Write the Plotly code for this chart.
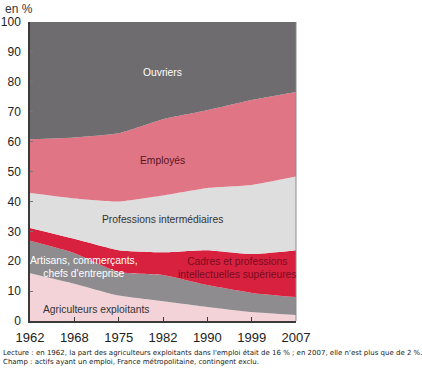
import plotly.graph_objects as go

years = ["1962", "1968", "1975", "1982", "1990", "1999", "2007"]
agriculteurs = [16.0, 12.5, 8.5, 6.6, 4.7, 3.0, 2.0]
artisans = [10.8, 10.2, 7.9, 8.8, 7.3, 6.4, 6.0]
cadres = [4.3, 4.8, 7.3, 7.6, 11.7, 13.0, 15.7]
prof_inter = [11.7, 13.5, 16.3, 19.0, 20.8, 23.1, 24.6]
employes = [18.0, 20.4, 22.8, 25.5, 26.0, 28.4, 28.3]
ouvriers = [39.2, 38.6, 37.2, 32.5, 29.5, 26.1, 23.4]

series = [
    ("Agriculteurs exploitants", agriculteurs, "#f4d3d8"),
    ("Artisans, commerçants, chefs d'entreprise", artisans, "#8e8c8e"),
    ("Cadres et professions intellectuelles supérieures", cadres, "#d8213e"),
    ("Professions intermédiaires", prof_inter, "#dedede"),
    ("Employés", employes, "#e07586"),
    ("Ouvriers", ouvriers, "#6e6c6e"),
]

x = list(range(len(years)))
fig = go.Figure()
for name, vals, col in series:
    fig.add_trace(go.Scatter(
        x=x, y=vals, name=name, stackgroup="one", mode="lines",
        line=dict(width=0, shape="spline", smoothing=0.5),
        fillcolor=col, hoverinfo="skip"))

lab_font = "Liberation Sans, Arial"
ann = [
    (2.98, 83, "Ouvriers", "white"),
    (2.98, 53.6, "Employés", "#5a1620"),
    (2.98, 34.1, "Professions intermédiaires", "#333333"),
    (1.22, 17.9, "Artisans, commerçants,<br>chefs d'entreprise", "white"),
    (4.68, 17.7, "Cadres et professions<br>intellectuelles supérieures", "#7a0c1e"),
    (1.48, 4.0, "Agriculteurs exploitants", "#333333"),
]
for ax, ay, t, c in ann:
    fig.add_annotation(x=ax, y=ay, text=t, showarrow=False,
                       font=dict(family=lab_font, size=10.3, color=c),
                       xanchor="center", yanchor="middle", align="center")

fig.add_annotation(x=0, xref="paper", xanchor="left", xshift=-27,
                   y=1, yref="paper", yanchor="bottom", yshift=4,
                   text="en %", showarrow=False,
                   font=dict(family="Liberation Sans, Arial", size=12, color="#333"))

foot = ("Lecture : en 1962, la part des agriculteurs exploitants dans l'emploi était de 16 % ; "
        "en 2007, elle n'est plus que de 2 %.<br>"
        "Champ : actifs ayant un emploi, France métropolitaine, contingent exclu.")
fig.add_annotation(x=0, xref="paper", xanchor="left", xshift=-29,
                   y=0, yref="paper", yanchor="top", yshift=-26,
                   text=foot, showarrow=False, align="left",
                   font=dict(family="DejaVu Sans, Verdana", size=7, color="#222"))

fig.add_shape(type="line", xref="paper", yref="paper", x0=1, x1=1, y0=0, y1=1,
              line=dict(color="#8a8a8a", width=1))

fig.update_layout(
    width=422, height=372,
    margin=dict(l=30, r=126, t=22, b=51, autoexpand=False),
    plot_bgcolor="white", paper_bgcolor="white",
    showlegend=False,
    xaxis=dict(range=[0, 6], tickvals=x, ticktext=years, showgrid=False, zeroline=False,
               automargin=False,
               showline=True, linecolor="#3a3a3a", linewidth=1.5,
               ticks="inside", ticklen=4, tickcolor="#3a3a3a",
               tickfont=dict(family="Liberation Sans, Arial", size=13, color="#222"),
               ticklabelstandoff=4),
    yaxis=dict(range=[0, 100], tickvals=list(range(0, 101, 10)), showgrid=False, zeroline=False,
               automargin=False,
               showline=True, linecolor="#3a3a3a", linewidth=1.5,
               ticks="inside", ticklen=3, tickcolor="#777",
               tickfont=dict(family="Liberation Sans, Arial", size=12, color="#222"),
               ticklabelstandoff=5),
)

fig.write_html("out.html", config={"displayModeBar": False},
               post_script="document.body.style.margin='0px';")
